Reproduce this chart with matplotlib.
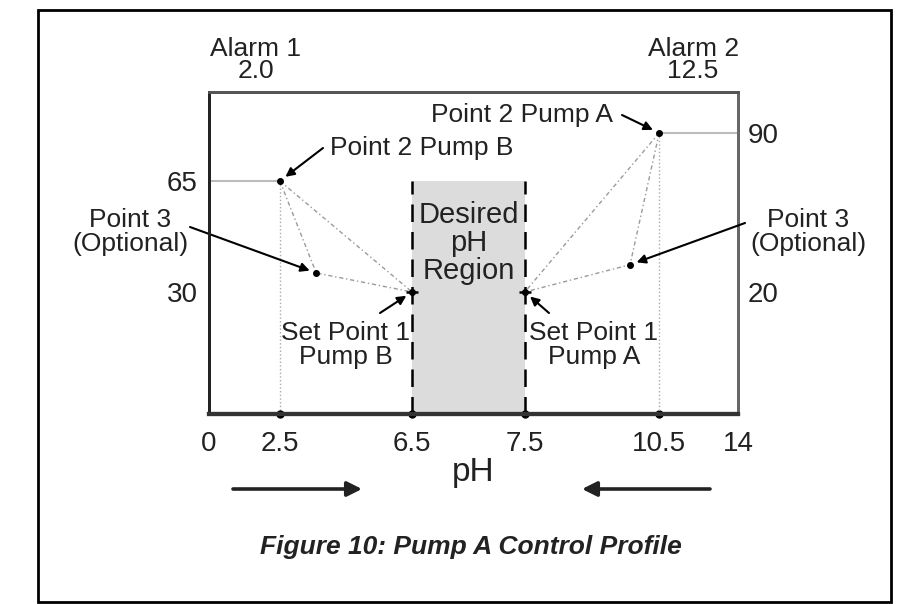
import numpy as np
import matplotlib

matplotlib.use("Agg")
import matplotlib.pyplot as plt
from matplotlib.patches import Rectangle

plt.rcParams["font.family"] = ["Liberation Sans", "DejaVu Sans"]

W, H = 904, 604

# pH axis: schematic, so each tick gets its own place along the axis
ph_ticks = [0, 2.5, 6.5, 7.5, 10.5, 14]
ph_tick_labels = ["0", "2.5", "6.5", "7.5", "10.5", "14"]
tick_pos = [0.0, 0.134, 0.384, 0.597, 0.851, 1.0]

# desired pH region
region_ph = [6.5, 7.5]
region_top = 65

# Pump B, left scale: point 2, point 3 (optional), set point 1
pump_b_ph = [2.5, 3.6, 6.5]
pump_b_out = [65, 36, 30]
# Pump A, right scale: point 2, point 3 (optional), set point 1
pump_a_ph = [10.5, 9.85, 7.5]
pump_a_out = [90, 32, 20]

left_ticks = [30, 65]
right_ticks = [20, 90]


def fwd(x):
    return np.interp(x, ph_ticks, tick_pos)


def inv(y):
    return np.interp(y, tick_pos, ph_ticks)


def fig_xy(x, y):
    """pixel position (from top-left) -> figure fraction"""
    return x / W, 1 - y / H


def fig_px(x, y):
    """pixel position (from top-left) -> figure pixels"""
    return x, H - y


fig = plt.figure(figsize=(W / 100, H / 100), dpi=100)
fig.patch.set_facecolor("white")
ax = fig.add_axes([209 / W, 1 - 414 / H, 529 / W, 322 / H])
ax.set_xscale("function", functions=(fwd, inv))
ax.set_xlim(0, 14)
ax.set_ylim(-8.5, 93.1)
ax2 = ax.twinx()
ax2.set_ylim(-33.7, 108.0)

for a in (ax, ax2):
    a.spines["left"].set_color("#222222")
    a.spines["left"].set_linewidth(2)
    a.spines["bottom"].set_color("#333333")
    a.spines["bottom"].set_linewidth(3)
    a.spines["top"].set_color("#555555")
    a.spines["top"].set_linewidth(2)
    a.spines["right"].set_color("#666666")
    a.spines["right"].set_linewidth(2)

ax.set_xticks(ph_ticks, ph_tick_labels)
ax.tick_params(axis="x", length=0, pad=12, labelsize=20, labelcolor="#222222")
ax.set_yticks(left_ticks, [str(v) for v in left_ticks])
ax.tick_params(axis="y", length=0, pad=8, labelsize=20, labelcolor="#222222")
ax2.set_yticks(right_ticks, [str(v) for v in right_ticks])
ax2.tick_params(axis="y", length=0, pad=7, labelsize=20, labelcolor="#222222")
ax.set_xlabel("pH", fontsize=24, labelpad=0, color="#222222")

# desired region
ax.fill_between(region_ph, -8.5, region_top, color="#dcdcdc", zorder=1, lw=0)
for x in region_ph:
    ax.plot([x, x], [-8.5, region_top], color="black", lw=1.8,
            dashes=(7, 4), zorder=3)
ax.text(np.mean(region_ph), 45.5, "Desired\npH\nRegion", ha="center", va="center",
        fontsize=21, linespacing=1.0, color="#222222", zorder=4)

grey = "#9a9a9a"
conn = (0, (3, 2, 1, 2))

# pump B guides and profile (left scale)
ax.plot([0, pump_b_ph[0]], [pump_b_out[0]] * 2, color="#bbbbbb", lw=1.5, zorder=2)
ax.plot([pump_b_ph[0]] * 2, [-8.5, pump_b_out[0]], color="#aaaaaa", lw=1,
        ls=":", zorder=2)
ax.plot([pump_b_ph[0], pump_b_ph[2]], [pump_b_out[0], pump_b_out[2]],
        color=grey, lw=1, ls=conn, zorder=2)
ax.plot(pump_b_ph, pump_b_out, color=grey, lw=1, ls=conn, zorder=2)
ax.plot(pump_b_ph, pump_b_out, "o", color="black", ms=4, zorder=5)
ax.plot(pump_b_ph[2], pump_b_out[2], "_", color="black", ms=9, mew=1.8, zorder=5)

# pump A guides and profile (right scale)
ax2.plot([pump_a_ph[0], 14], [pump_a_out[0]] * 2, color="#bbbbbb", lw=1.5, zorder=2)
ax2.plot([pump_a_ph[0]] * 2, [-33.7, pump_a_out[0]], color="#aaaaaa", lw=1,
         ls=":", zorder=2)
ax2.plot([pump_a_ph[0], pump_a_ph[2]], [pump_a_out[0], pump_a_out[2]],
         color=grey, lw=1, ls=conn, zorder=2)
ax2.plot(pump_a_ph, pump_a_out, color=grey, lw=1, ls=conn, zorder=2)
ax2.plot(pump_a_ph, pump_a_out, "o", color="black", ms=4, zorder=5)
ax2.plot(pump_a_ph[2], pump_a_out[2], "_", color="black", ms=9, mew=1.8, zorder=5)

# dots on the pH axis
ax.plot(ph_ticks[1:-1], [-8.5] * 4, "o", color="black", ms=5, clip_on=False, zorder=6)

arrow = dict(arrowstyle="-|>", color="black", lw=1.5, shrinkA=0, shrinkB=5,
             mutation_scale=13)

# callouts
ax.annotate("", xy=(pump_b_ph[0], pump_b_out[0]), xytext=fig_px(323, 148),
            textcoords="figure pixels", arrowprops=arrow)
fig.text(*fig_xy(330, 148), "Point 2 Pump B", fontsize=19, va="center",
         color="#222222")

ax2.annotate("", xy=(pump_a_ph[0], pump_a_out[0]), xytext=fig_px(622, 115),
             textcoords="figure pixels", arrowprops=arrow)
fig.text(*fig_xy(613, 115), "Point 2 Pump A", fontsize=19, va="center",
         ha="right", color="#222222")

ax.annotate("", xy=(pump_b_ph[1], pump_b_out[1]), xytext=fig_px(190, 227),
            textcoords="figure pixels", arrowprops=arrow)
fig.text(*fig_xy(130, 232), "Point 3\n(Optional)", fontsize=19, ha="center",
         va="center", linespacing=0.95, color="#222222")

ax2.annotate("", xy=(pump_a_ph[1], pump_a_out[1]), xytext=fig_px(745, 223),
             textcoords="figure pixels", arrowprops=arrow)
fig.text(*fig_xy(808, 232), "Point 3\n(Optional)", fontsize=19, ha="center",
         va="center", linespacing=0.95, color="#222222")

ax.annotate("", xy=(pump_b_ph[2], pump_b_out[2]), xytext=fig_px(380, 313),
            textcoords="figure pixels", arrowprops=arrow)
fig.text(*fig_xy(346, 345), "Set Point 1\nPump B", fontsize=19, ha="center",
         va="center", linespacing=0.95, color="#222222")

ax2.annotate("", xy=(pump_a_ph[2], pump_a_out[2]), xytext=fig_px(549, 313),
             textcoords="figure pixels", arrowprops=arrow)
fig.text(*fig_xy(594, 345), "Set Point 1\nPump A", fontsize=19, ha="center",
         va="center", linespacing=0.95, color="#222222")

# alarms
fig.text(*fig_xy(255, 49), "Alarm 1", fontsize=19, ha="center", va="center",
         color="#222222")
fig.text(*fig_xy(256, 71), "2.0", fontsize=19, ha="center", va="center",
         color="#222222")
fig.text(*fig_xy(694, 49), "Alarm 2", fontsize=19, ha="center", va="center",
         color="#222222")
fig.text(*fig_xy(693, 71), "12.5", fontsize=19, ha="center", va="center",
         color="#222222")

# direction arrows below the axis
big = dict(arrowstyle="-|>", color="#222222", lw=2.6, shrinkA=0, shrinkB=0,
           mutation_scale=22)
ax.annotate("", xy=fig_px(362, 489), xytext=fig_px(233, 489),
            xycoords="figure pixels", textcoords="figure pixels",
            arrowprops=big, annotation_clip=False)
ax.annotate("", xy=fig_px(582, 489), xytext=fig_px(710, 489),
            xycoords="figure pixels", textcoords="figure pixels",
            arrowprops=big, annotation_clip=False)

fig.text(*fig_xy(471, 547), "Figure 10: Pump A Control Profile", fontsize=19,
         fontweight="bold", fontstyle="italic", ha="center", va="center",
         color="#222222")

# outer frame
fig.patches.append(Rectangle(fig_xy(38, 602), 853 / W, 592 / H, fill=False,
                             edgecolor="black", lw=2, transform=fig.transFigure))

fig.savefig("out.png", dpi=100)
